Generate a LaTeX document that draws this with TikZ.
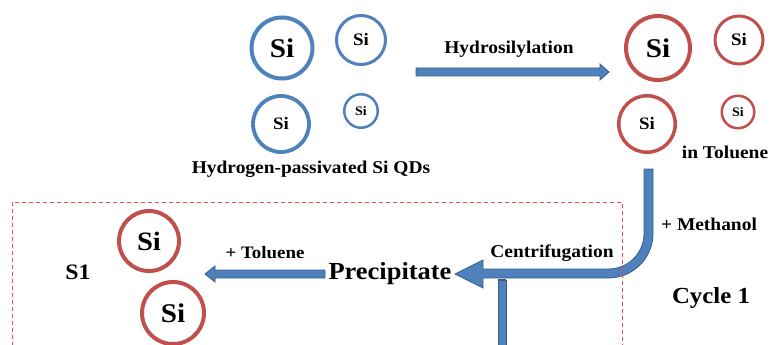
\documentclass[tikz,border=0pt]{standalone}
\usepackage{fontspec}
\setmainfont[FakeStretch=1.08]{Liberation Serif}
\usetikzlibrary{calc}
\definecolor{qdblue}{HTML}{4F81BD}
\definecolor{qdred}{HTML}{C0504D}
\definecolor{arrline}{HTML}{385D8A}
\definecolor{boxred}{HTML}{F24A4A}
\tikzset{
  bqd/.style={circle, draw=qdblue, inner sep=0pt, font=\bfseries},
  rqd/.style={circle, draw=qdred, inner sep=0pt, font=\bfseries},
  lbl/.style={anchor=base, inner sep=0pt, font=\bfseries\fontsize{18}{20}\selectfont},
  fatarrow/.style={fill=qdblue, draw=arrline, line width=0.8pt, line join=miter},
}
\newcommand{\fs}[1]{\fontsize{#1}{#1}\selectfont}
\begin{document}
\begin{tikzpicture}[x=1pt, y=-1pt]
\useasboundingbox (0,0) rectangle (771,345);
\clip (0,0) rectangle (771,345);
% blue QDs
\node[bqd, line width=4pt, minimum size=61pt, font=\bfseries\fs{27}] (b1) at (282,48) {Si};
\node[bqd, line width=3pt, minimum size=49pt, font=\bfseries\fs{17.5}] (b2) at (361,40) {Si};
\node[bqd, line width=3.8pt, minimum size=56pt, font=\bfseries\fs{17.5}] (b3) at (281,124) {Si};
\node[bqd, line width=2.5pt, minimum size=33.5pt, font=\bfseries\fs{13}] (b4) at (361,111) {Si};
\node[lbl] (hp) at (311,173) {Hydrogen-passivated Si QDs};
% red QDs
\node[rqd, line width=4pt, minimum size=64pt, font=\bfseries\fs{27}] (r1) at (658,48) {Si};
\node[rqd, line width=3pt, minimum size=48pt, font=\bfseries\fs{17.5}] (r2) at (739,40) {Si};
\node[rqd, line width=3.5pt, minimum size=56.5pt, font=\bfseries\fs{17.5}] (r3) at (647,124) {Si};
\node[rqd, line width=2.5pt, minimum size=32.5pt, font=\bfseries\fs{13}] (r4) at (738,112) {Si};
\node[lbl] (tol) at (725,158) {in Toluene};
% hydrosilylation arrow
\node[lbl] (hyd) at (509,54) {Hydrosilylation};
\coordinate (h1) at (416,72);
\coordinate (h2) at (609,72);
\draw[fatarrow] ($(h1)+(0,-4)$) -- ($(h2)+(-9,-4)$) -- ($(h2)+(-9,-8)$) -- (h2)
  -- ($(h2)+(-9,8)$) -- ($(h2)+(-9,4)$) -- ($(h1)+(0,4)$) -- cycle;
% bent arrow
\coordinate (c1) at (648.5,169);
\coordinate (c2) at (455,274);
\draw[fatarrow] ($(c1)+(4.5,0)$) -- (653,233.5) arc[start angle=0, end angle=90, radius=44.5]
  -- (483,278) -- (483,288) -- (c2) -- (483,260) -- (483,269) -- (608.5,269)
  arc[start angle=90, end angle=0, radius=35.5] -- ($(c1)+(-4.5,0)$) -- cycle;
% vertical shaft below
\coordinate (v1) at (502,280);
\draw[fatarrow] ($(v1)+(-4,0)$) rectangle ($(v1)+(4,80)$);
\draw[arrline, line width=1.5pt] ($(v1)+(-4,0)$) -- ($(v1)+(4,0)$);
% labels
\node[lbl] (cen) at (552,257) {Centrifugation};
\node[lbl] (met) at (709,230) {+ Methanol};
\node[lbl, font=\bfseries\fs{23}] (cyc) at (711,303) {Cycle 1};
\node[lbl, font=\bfseries\fs{24.5}] (pre) at (390,279) {Precipitate};
\node[lbl, font=\bfseries\fs{17.5}] (ptol) at (265,258) {+ Toluene};
\node[lbl, font=\bfseries\fs{22}] (s1) at (78,279) {S1};
% toluene arrow
\coordinate (t1) at (325,274);
\coordinate (t2) at (205,274);
\draw[fatarrow] ($(t1)+(0,-4)$) -- ($(t2)+(10,-4)$) -- ($(t2)+(10,-8)$) -- (t2)
  -- ($(t2)+(10,8)$) -- ($(t2)+(10,4)$) -- ($(t1)+(0,4)$) -- cycle;
% S1 QDs
\node[rqd, line width=4pt, minimum size=60pt, font=\bfseries\fs{26.5}] (r5) at (149,241) {Si};
\node[rqd, line width=4pt, minimum size=62pt, font=\bfseries\fs{27}] (r6) at (173,313) {Si};
% dashed box
\draw[boxred, line width=0.8pt, dash pattern=on 4pt off 3pt] (12,360) -- (12,202) -- (622,202) -- (622,360);
\end{tikzpicture}
\end{document}
